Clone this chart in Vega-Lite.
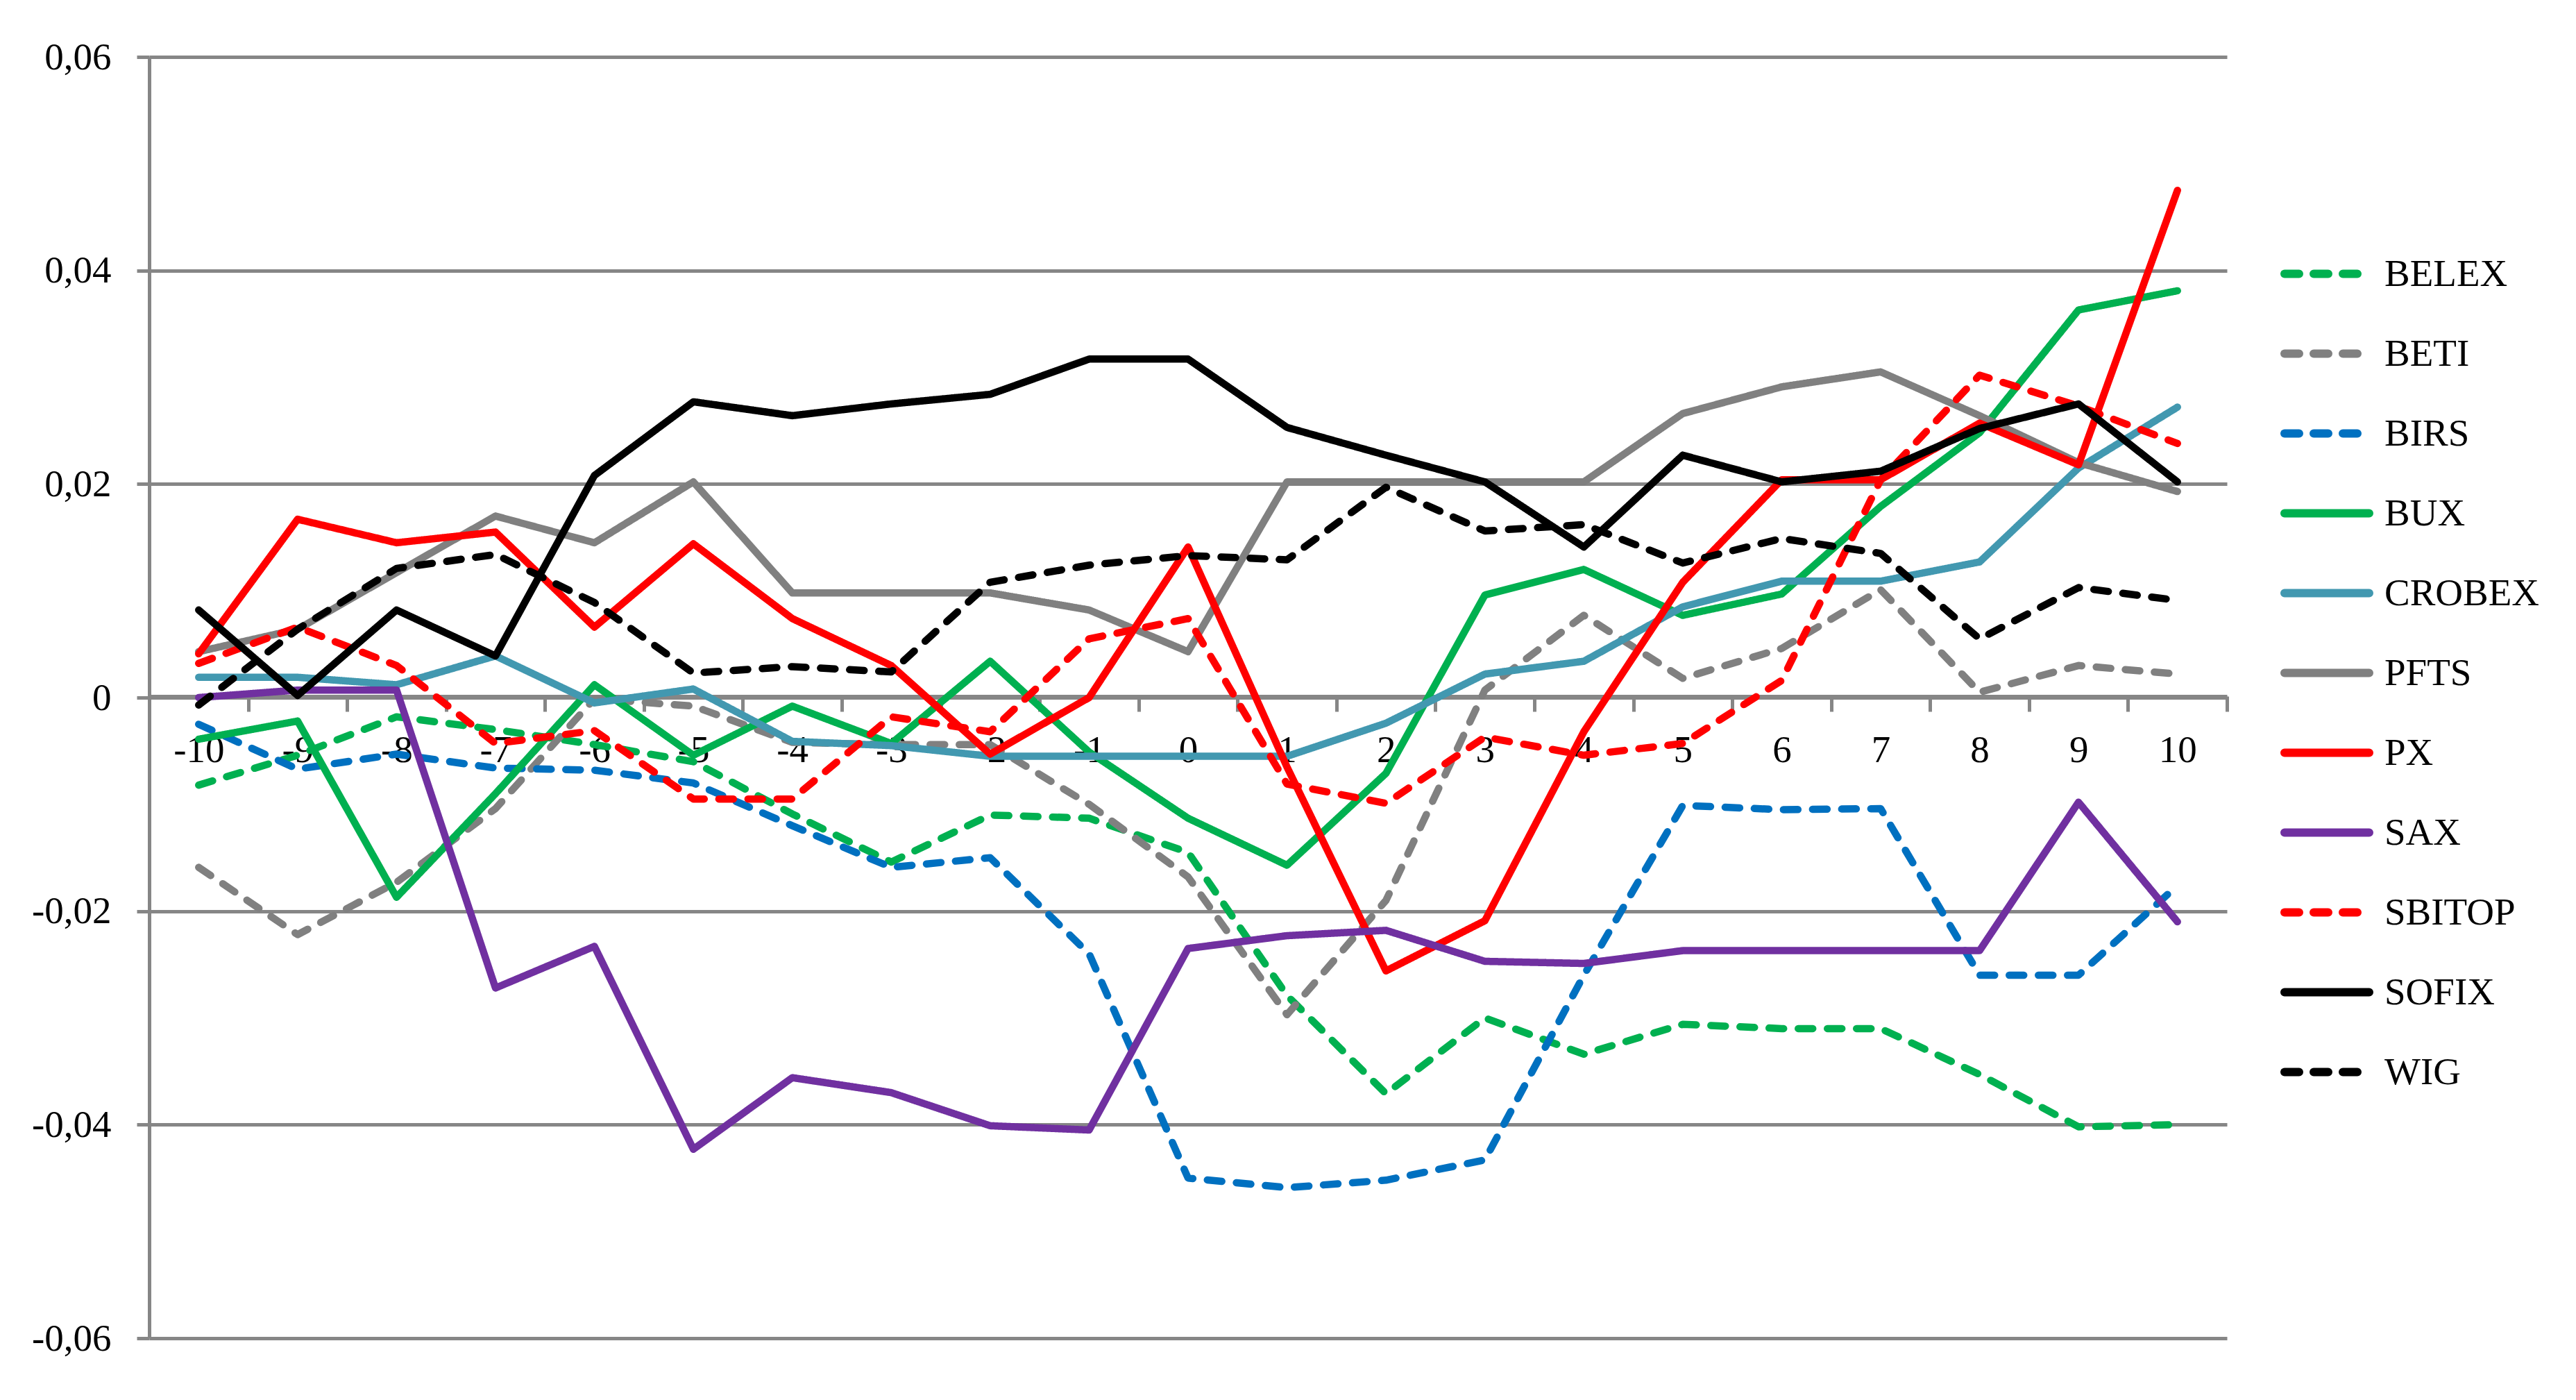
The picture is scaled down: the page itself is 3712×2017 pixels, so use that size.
{
  "$schema": "https://vega.github.io/schema/vega-lite/v6.json",
  "autosize": {"type": "none"},
  "width": 2994,
  "height": 1846,
  "padding": {"left": 215, "top": 82, "right": 503, "bottom": 89},
  "background": "white",
  "data": {
    "values": [
      {"day": -10, "index": "BELEX", "value": -0.0082}, {"day": -9, "index": "BELEX", "value": -0.0054}, {"day": -8, "index": "BELEX", "value": -0.0018}, {"day": -7, "index": "BELEX", "value": -0.003}, {"day": -6, "index": "BELEX", "value": -0.0044}, {"day": -5, "index": "BELEX", "value": -0.006}, {"day": -4, "index": "BELEX", "value": -0.0109}, {"day": -3, "index": "BELEX", "value": -0.0154}, {"day": -2, "index": "BELEX", "value": -0.011}, {"day": -1, "index": "BELEX", "value": -0.0113}, {"day": 0, "index": "BELEX", "value": -0.0145}, {"day": 1, "index": "BELEX", "value": -0.0279}, {"day": 2, "index": "BELEX", "value": -0.0371}, {"day": 3, "index": "BELEX", "value": -0.03}, {"day": 4, "index": "BELEX", "value": -0.0334}, {"day": 5, "index": "BELEX", "value": -0.0306}, {"day": 6, "index": "BELEX", "value": -0.031}, {"day": 7, "index": "BELEX", "value": -0.031}, {"day": 8, "index": "BELEX", "value": -0.0353}, {"day": 9, "index": "BELEX", "value": -0.0402}, {"day": 10, "index": "BELEX", "value": -0.04},
      {"day": -10, "index": "BETI", "value": -0.0159}, {"day": -9, "index": "BETI", "value": -0.0222}, {"day": -8, "index": "BETI", "value": -0.0173}, {"day": -7, "index": "BETI", "value": -0.0104}, {"day": -6, "index": "BETI", "value": -0.0001}, {"day": -5, "index": "BETI", "value": -0.0008}, {"day": -4, "index": "BETI", "value": -0.0042}, {"day": -3, "index": "BETI", "value": -0.0044}, {"day": -2, "index": "BETI", "value": -0.0044}, {"day": -1, "index": "BETI", "value": -0.01}, {"day": 0, "index": "BETI", "value": -0.0168}, {"day": 1, "index": "BETI", "value": -0.0297}, {"day": 2, "index": "BETI", "value": -0.019}, {"day": 3, "index": "BETI", "value": 0.0007}, {"day": 4, "index": "BETI", "value": 0.0077}, {"day": 5, "index": "BETI", "value": 0.0018}, {"day": 6, "index": "BETI", "value": 0.0046}, {"day": 7, "index": "BETI", "value": 0.0101}, {"day": 8, "index": "BETI", "value": 0.0005}, {"day": 9, "index": "BETI", "value": 0.003}, {"day": 10, "index": "BETI", "value": 0.0022},
      {"day": -10, "index": "BIRS", "value": -0.0025}, {"day": -9, "index": "BIRS", "value": -0.0067}, {"day": -8, "index": "BIRS", "value": -0.0053}, {"day": -7, "index": "BIRS", "value": -0.0066}, {"day": -6, "index": "BIRS", "value": -0.0068}, {"day": -5, "index": "BIRS", "value": -0.008}, {"day": -4, "index": "BIRS", "value": -0.012}, {"day": -3, "index": "BIRS", "value": -0.0159}, {"day": -2, "index": "BIRS", "value": -0.015}, {"day": -1, "index": "BIRS", "value": -0.024}, {"day": 0, "index": "BIRS", "value": -0.045}, {"day": 1, "index": "BIRS", "value": -0.0459}, {"day": 2, "index": "BIRS", "value": -0.0452}, {"day": 3, "index": "BIRS", "value": -0.0433}, {"day": 4, "index": "BIRS", "value": -0.026}, {"day": 5, "index": "BIRS", "value": -0.0101}, {"day": 6, "index": "BIRS", "value": -0.0105}, {"day": 7, "index": "BIRS", "value": -0.0104}, {"day": 8, "index": "BIRS", "value": -0.026}, {"day": 9, "index": "BIRS", "value": -0.026}, {"day": 10, "index": "BIRS", "value": -0.0176},
      {"day": -10, "index": "BUX", "value": -0.0039}, {"day": -9, "index": "BUX", "value": -0.0022}, {"day": -8, "index": "BUX", "value": -0.0187}, {"day": -7, "index": "BUX", "value": -0.009}, {"day": -6, "index": "BUX", "value": 0.0012}, {"day": -5, "index": "BUX", "value": -0.0054}, {"day": -4, "index": "BUX", "value": -0.0008}, {"day": -3, "index": "BUX", "value": -0.0043}, {"day": -2, "index": "BUX", "value": 0.0034}, {"day": -1, "index": "BUX", "value": -0.0051}, {"day": 0, "index": "BUX", "value": -0.0113}, {"day": 1, "index": "BUX", "value": -0.0157}, {"day": 2, "index": "BUX", "value": -0.0071}, {"day": 3, "index": "BUX", "value": 0.0096}, {"day": 4, "index": "BUX", "value": 0.012}, {"day": 5, "index": "BUX", "value": 0.0077}, {"day": 6, "index": "BUX", "value": 0.0097}, {"day": 7, "index": "BUX", "value": 0.0179}, {"day": 8, "index": "BUX", "value": 0.0248}, {"day": 9, "index": "BUX", "value": 0.0363}, {"day": 10, "index": "BUX", "value": 0.0381},
      {"day": -10, "index": "CROBEX", "value": 0.0019}, {"day": -9, "index": "CROBEX", "value": 0.0019}, {"day": -8, "index": "CROBEX", "value": 0.0012}, {"day": -7, "index": "CROBEX", "value": 0.0039}, {"day": -6, "index": "CROBEX", "value": -0.0005}, {"day": -5, "index": "CROBEX", "value": 0.0008}, {"day": -4, "index": "CROBEX", "value": -0.0041}, {"day": -3, "index": "CROBEX", "value": -0.0045}, {"day": -2, "index": "CROBEX", "value": -0.0055}, {"day": -1, "index": "CROBEX", "value": -0.0055}, {"day": 0, "index": "CROBEX", "value": -0.0055}, {"day": 1, "index": "CROBEX", "value": -0.0055}, {"day": 2, "index": "CROBEX", "value": -0.0024}, {"day": 3, "index": "CROBEX", "value": 0.0022}, {"day": 4, "index": "CROBEX", "value": 0.0034}, {"day": 5, "index": "CROBEX", "value": 0.0085}, {"day": 6, "index": "CROBEX", "value": 0.0109}, {"day": 7, "index": "CROBEX", "value": 0.0109}, {"day": 8, "index": "CROBEX", "value": 0.0127}, {"day": 9, "index": "CROBEX", "value": 0.0215}, {"day": 10, "index": "CROBEX", "value": 0.0272},
      {"day": -10, "index": "PFTS", "value": 0.0043}, {"day": -9, "index": "PFTS", "value": 0.0064}, {"day": -8, "index": "PFTS", "value": 0.0117}, {"day": -7, "index": "PFTS", "value": 0.017}, {"day": -6, "index": "PFTS", "value": 0.0145}, {"day": -5, "index": "PFTS", "value": 0.0202}, {"day": -4, "index": "PFTS", "value": 0.0098}, {"day": -3, "index": "PFTS", "value": 0.0098}, {"day": -2, "index": "PFTS", "value": 0.0098}, {"day": -1, "index": "PFTS", "value": 0.0082}, {"day": 0, "index": "PFTS", "value": 0.0043}, {"day": 1, "index": "PFTS", "value": 0.0202}, {"day": 2, "index": "PFTS", "value": 0.0202}, {"day": 3, "index": "PFTS", "value": 0.0202}, {"day": 4, "index": "PFTS", "value": 0.0202}, {"day": 5, "index": "PFTS", "value": 0.0266}, {"day": 6, "index": "PFTS", "value": 0.0291}, {"day": 7, "index": "PFTS", "value": 0.0305}, {"day": 8, "index": "PFTS", "value": 0.0264}, {"day": 9, "index": "PFTS", "value": 0.022}, {"day": 10, "index": "PFTS", "value": 0.0193},
      {"day": -10, "index": "PX", "value": 0.0041}, {"day": -9, "index": "PX", "value": 0.0167}, {"day": -8, "index": "PX", "value": 0.0145}, {"day": -7, "index": "PX", "value": 0.0155}, {"day": -6, "index": "PX", "value": 0.0066}, {"day": -5, "index": "PX", "value": 0.0144}, {"day": -4, "index": "PX", "value": 0.0074}, {"day": -3, "index": "PX", "value": 0.003}, {"day": -2, "index": "PX", "value": -0.0053}, {"day": -1, "index": "PX", "value": 0.0}, {"day": 0, "index": "PX", "value": 0.0141}, {"day": 1, "index": "PX", "value": -0.0065}, {"day": 2, "index": "PX", "value": -0.0256}, {"day": 3, "index": "PX", "value": -0.0209}, {"day": 4, "index": "PX", "value": -0.0032}, {"day": 5, "index": "PX", "value": 0.0108}, {"day": 6, "index": "PX", "value": 0.0204}, {"day": 7, "index": "PX", "value": 0.0204}, {"day": 8, "index": "PX", "value": 0.0257}, {"day": 9, "index": "PX", "value": 0.0218}, {"day": 10, "index": "PX", "value": 0.0475},
      {"day": -10, "index": "SAX", "value": 0.0}, {"day": -9, "index": "SAX", "value": 0.0007}, {"day": -8, "index": "SAX", "value": 0.0007}, {"day": -7, "index": "SAX", "value": -0.0272}, {"day": -6, "index": "SAX", "value": -0.0233}, {"day": -5, "index": "SAX", "value": -0.0423}, {"day": -4, "index": "SAX", "value": -0.0356}, {"day": -3, "index": "SAX", "value": -0.037}, {"day": -2, "index": "SAX", "value": -0.0401}, {"day": -1, "index": "SAX", "value": -0.0405}, {"day": 0, "index": "SAX", "value": -0.0235}, {"day": 1, "index": "SAX", "value": -0.0223}, {"day": 2, "index": "SAX", "value": -0.0218}, {"day": 3, "index": "SAX", "value": -0.0247}, {"day": 4, "index": "SAX", "value": -0.0249}, {"day": 5, "index": "SAX", "value": -0.0237}, {"day": 6, "index": "SAX", "value": -0.0237}, {"day": 7, "index": "SAX", "value": -0.0237}, {"day": 8, "index": "SAX", "value": -0.0237}, {"day": 9, "index": "SAX", "value": -0.0098}, {"day": 10, "index": "SAX", "value": -0.021},
      {"day": -10, "index": "SBITOP", "value": 0.0032}, {"day": -9, "index": "SBITOP", "value": 0.0066}, {"day": -8, "index": "SBITOP", "value": 0.003}, {"day": -7, "index": "SBITOP", "value": -0.0043}, {"day": -6, "index": "SBITOP", "value": -0.0031}, {"day": -5, "index": "SBITOP", "value": -0.0095}, {"day": -4, "index": "SBITOP", "value": -0.0095}, {"day": -3, "index": "SBITOP", "value": -0.0018}, {"day": -2, "index": "SBITOP", "value": -0.0032}, {"day": -1, "index": "SBITOP", "value": 0.0055}, {"day": 0, "index": "SBITOP", "value": 0.0074}, {"day": 1, "index": "SBITOP", "value": -0.0081}, {"day": 2, "index": "SBITOP", "value": -0.0099}, {"day": 3, "index": "SBITOP", "value": -0.0037}, {"day": 4, "index": "SBITOP", "value": -0.0054}, {"day": 5, "index": "SBITOP", "value": -0.0043}, {"day": 6, "index": "SBITOP", "value": 0.0016}, {"day": 7, "index": "SBITOP", "value": 0.0204}, {"day": 8, "index": "SBITOP", "value": 0.0302}, {"day": 9, "index": "SBITOP", "value": 0.0273}, {"day": 10, "index": "SBITOP", "value": 0.0238},
      {"day": -10, "index": "SOFIX", "value": 0.0082}, {"day": -9, "index": "SOFIX", "value": 0.0002}, {"day": -8, "index": "SOFIX", "value": 0.0082}, {"day": -7, "index": "SOFIX", "value": 0.0039}, {"day": -6, "index": "SOFIX", "value": 0.0208}, {"day": -5, "index": "SOFIX", "value": 0.0277}, {"day": -4, "index": "SOFIX", "value": 0.0264}, {"day": -3, "index": "SOFIX", "value": 0.0275}, {"day": -2, "index": "SOFIX", "value": 0.0284}, {"day": -1, "index": "SOFIX", "value": 0.0317}, {"day": 0, "index": "SOFIX", "value": 0.0317}, {"day": 1, "index": "SOFIX", "value": 0.0253}, {"day": 2, "index": "SOFIX", "value": 0.0227}, {"day": 3, "index": "SOFIX", "value": 0.0202}, {"day": 4, "index": "SOFIX", "value": 0.0141}, {"day": 5, "index": "SOFIX", "value": 0.0227}, {"day": 6, "index": "SOFIX", "value": 0.0202}, {"day": 7, "index": "SOFIX", "value": 0.0212}, {"day": 8, "index": "SOFIX", "value": 0.0252}, {"day": 9, "index": "SOFIX", "value": 0.0275}, {"day": 10, "index": "SOFIX", "value": 0.0202},
      {"day": -10, "index": "WIG", "value": -0.0007}, {"day": -9, "index": "WIG", "value": 0.0064}, {"day": -8, "index": "WIG", "value": 0.0121}, {"day": -7, "index": "WIG", "value": 0.0134}, {"day": -6, "index": "WIG", "value": 0.0089}, {"day": -5, "index": "WIG", "value": 0.0023}, {"day": -4, "index": "WIG", "value": 0.0029}, {"day": -3, "index": "WIG", "value": 0.0024}, {"day": -2, "index": "WIG", "value": 0.0108}, {"day": -1, "index": "WIG", "value": 0.0124}, {"day": 0, "index": "WIG", "value": 0.0133}, {"day": 1, "index": "WIG", "value": 0.0129}, {"day": 2, "index": "WIG", "value": 0.0197}, {"day": 3, "index": "WIG", "value": 0.0156}, {"day": 4, "index": "WIG", "value": 0.0162}, {"day": 5, "index": "WIG", "value": 0.0126}, {"day": 6, "index": "WIG", "value": 0.0149}, {"day": 7, "index": "WIG", "value": 0.0135}, {"day": 8, "index": "WIG", "value": 0.0055}, {"day": 9, "index": "WIG", "value": 0.0103}, {"day": 10, "index": "WIG", "value": 0.0091}
    ]
  },
  "mark": {"type": "line", "strokeWidth": 10.5, "strokeCap": "round", "strokeJoin": "round"},
  "encoding": {
    "x": {
      "field": "day",
      "type": "ordinal",
      "scale": {"type": "band", "paddingInner": 0, "paddingOuter": 0},
      "axis": {
        "orient": "bottom",
        "offset": -925,
        "title": null,
        "labelAngle": 0,
        "tickBand": "extent",
        "tickSize": 22,
        "tickWidth": 5,
        "tickColor": "#868686",
        "domainColor": "#868686",
        "domainWidth": 5,
        "labelFont": "Liberation Serif",
        "labelFontSize": 55,
        "labelColor": "#000000",
        "labelPadding": 29,
        "labelOverlap": false,
        "grid": false
      }
    },
    "y": {
      "field": "value",
      "type": "quantitative",
      "scale": {"domain": [-0.06, 0.06], "nice": false, "zero": false},
      "axis": {
        "title": null,
        "values": [-0.06, -0.04, -0.02, 0, 0.02, 0.04, 0.06],
        "labelExpr": "datum.value == 0 ? '0' : replace(toString(datum.value), '.', ',')",
        "grid": true,
        "gridColor": "#868686",
        "gridWidth": 5,
        "domainColor": "#868686",
        "domainWidth": 5,
        "tickColor": "#868686",
        "tickWidth": 5,
        "tickSize": 18,
        "labelPadding": 37,
        "labelFont": "Liberation Serif",
        "labelFontSize": 55,
        "labelColor": "#000000"
      }
    },
    "color": {
      "field": "index",
      "type": "nominal",
      "title": null,
      "scale": {
        "domain": ["BELEX", "BETI", "BIRS", "BUX", "CROBEX", "PFTS", "PX", "SAX", "SBITOP", "SOFIX", "WIG"],
        "range": ["#00B050", "#808080", "#0070C0", "#00B050", "#4298B0", "#808080", "#FF0000", "#7030A0", "#FF0000", "#000000", "#000000"]
      },
      "legend": {
        "encode": {"symbols": {"update": {"strokeCap": {"value": "round"}}}}
      }
    },
    "strokeDash": {
      "field": "index",
      "type": "nominal",
      "title": null,
      "scale": {
        "domain": ["BELEX", "BETI", "BIRS", "BUX", "CROBEX", "PFTS", "PX", "SAX", "SBITOP", "SOFIX", "WIG"],
        "range": [[21, 21], [21, 21], [21, 21], [1, 0], [1, 0], [1, 0], [1, 0], [1, 0], [21, 21], [1, 0], [21, 21]]
      },
      "legend": {
        "encode": {"symbols": {"update": {"strokeCap": {"value": "round"}}}}
      }
    }
  },
  "config": {
    "view": {"stroke": null},
    "legend": {
      "orient": "none",
      "legendX": 3071,
      "legendY": 255,
      "padding": 0,
      "symbolType": "stroke",
      "symbolSize": 14884,
      "symbolStrokeWidth": 12,
      "labelFont": "Liberation Serif",
      "labelFontSize": 55,
      "labelColor": "#000000",
      "labelOffset": 16,
      "clipHeight": 115,
      "rowPadding": 0,
      "labelLimit": 400
    }
  }
}
